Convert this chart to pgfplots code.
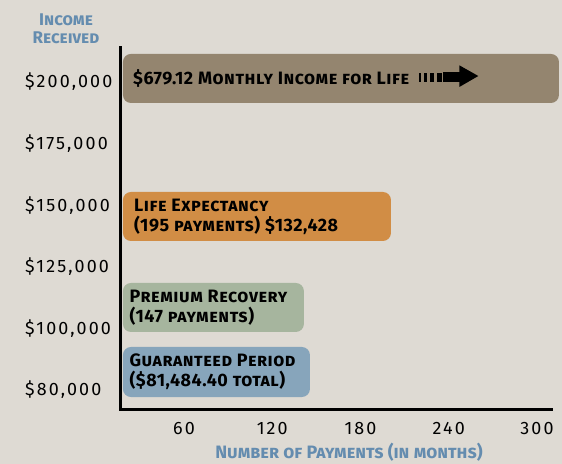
\documentclass[border=0pt]{standalone}
\usepackage{fontspec}
\setmainfont{Fira Sans}
\newfontfamily\tickfont[LetterSpace=12]{Fira Sans}
\newfontfamily\barfont[LetterSpace=3]{Fira Sans}
\usepackage{pgfplots}
\pgfplotsset{compat=1.18}
\definecolor{bg}{RGB}{222,218,211}
\definecolor{taupe}{RGB}{148,133,111}
\definecolor{barorange}{RGB}{209,141,69}
\definecolor{sage}{RGB}{166,181,158}
\definecolor{steel}{RGB}{135,165,187}
\definecolor{lab}{RGB}{100,140,175}
\begin{document}
\begin{tikzpicture}
\useasboundingbox (0,0) rectangle (562bp,464bp);
\fill[bg] (0,0) rectangle (562bp,464bp);
\begin{axis}[
 at={(120bp,54bp)}, anchor=south west,
 x=1.471bp, y=61.6bp,
 xmin=16.5, xmax=309.5, ymin=-0.325, ymax=5.552,
 axis lines*=left,
 axis line style={line width=3bp, black, line cap=rect},
 clip=false,
 xtick={60,120,180,240,300},
 ytick={0,1,2,3,4,5},
 yticklabels={{\$80,000},{\$100,000},{\$125,000},{\$150,000},{\$175,000},{\$200,000}},
 major tick length=0pt,
 tick style={draw=none},
 tick label style={font=\tickfont\fontsize{18}{20}\selectfont},
 /pgf/number format/assume math mode=true,
 xticklabel style={inner sep=0pt, anchor=north, yshift=-12bp},
 yticklabel style={inner sep=0pt, anchor=west, xshift=-95bp},
]
\addplot[fill=taupe, draw=none, rounded corners=8bp] coordinates {(18.5,4.659)(18.5,5.455)(314.9,5.455)(314.9,4.659)} -- cycle;
\addplot[fill=barorange, draw=none, rounded corners=8bp] coordinates {(18.5,2.419)(18.5,3.214)(200.7,3.214)(200.7,2.419)} -- cycle;
\addplot[fill=sage, draw=none, rounded corners=8bp] coordinates {(18.5,0.942)(18.5,1.737)(141.5,1.737)(141.5,0.942)} -- cycle;
\addplot[fill=steel, draw=none, rounded corners=8bp] coordinates {(18.5,-0.114)(18.5,0.698)(145.6,0.698)(145.6,-0.114)} -- cycle;

\node[anchor=west, inner sep=0pt, font=\barfont\fontsize{18}{20}\selectfont\bfseries\scshape] at (axis cs:25.3,5.06) {\$679.12 Monthly Income for Life};
\node[anchor=west, inner sep=0pt, align=left, font=\barfont\fontsize{18}{20}\selectfont\bfseries\scshape] at (axis cs:26,2.81) {Life Expectancy\\(195 payments) \$132,428};
\node[anchor=west, inner sep=0pt, align=left, font=\barfont\fontsize{18}{20}\selectfont\bfseries\scshape] at (axis cs:22.9,1.339) {Premium Recovery\\(147 payments)};
\node[anchor=west, inner sep=0pt, align=left, font=\barfont\fontsize{18}{20}\selectfont\bfseries\scshape] at (axis cs:22.9,0.292) {Guaranteed Period\\(\$81,484.40 total)};
\end{axis}
% decorative arrow
\fill[black] (419bp,382bp) rectangle (421bp,391bp);
\fill[black] (424.3bp,382bp) rectangle (427.3bp,391bp);
\fill[black] (430.3bp,382bp) rectangle (433.7bp,391bp);
\fill[black] (436.7bp,382bp) rectangle (441.7bp,391bp);
\fill[black] (443.3bp,381.5bp) rectangle (460.5bp,392bp);
\fill[black] (459.3bp,398.7bp) -- (478.3bp,388bp) -- (459.3bp,377bp) -- cycle;
% axis titles
\node[align=center, text=lab, inner sep=0pt, font=\fontsize{17}{18}\selectfont\bfseries\scshape] at (66bp,435bp) {Income\\Received};
\node[text=lab, inner sep=0pt, font=\fontsize{18}{18}\selectfont\bfseries\scshape] at (349bp,11.5bp) {Number of Payments (in months)};
\end{tikzpicture}
\end{document}
